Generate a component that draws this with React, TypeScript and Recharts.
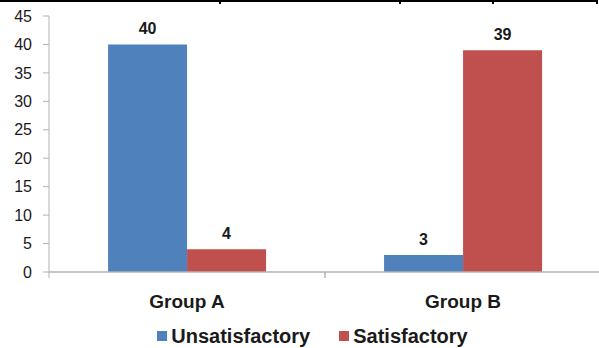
import React from 'react';
import { BarChart, Bar, XAxis, YAxis, Legend, LabelList } from 'recharts';

const categories = ['Group A', 'Group B'];
const unsatisfactory = [40, 3];
const satisfactory = [4, 39];
const seriesNames = ['Unsatisfactory', 'Satisfactory'];
const seriesColors = ['#4F81BD', '#C0504D'];
const yTicks = [0, 5, 10, 15, 20, 25, 30, 35, 40, 45];

const data = categories.map((c, i) => ({
  name: c,
  unsatisfactory: unsatisfactory[i],
  satisfactory: satisfactory[i],
}));

const FONT = '"Liberation Sans", Arial, sans-serif';
const AXIS = '#B3B3B3';

const CatTick = (props: any) => {
  const { x, y, payload } = props;
  const off = payload.offset || 0;
  return (
    <g>
      <line x1={x - off} x2={x - off} y1={y} y2={y + 6} stroke={AXIS} strokeWidth={1} />
      <line x1={x + off} x2={x + off} y1={y} y2={y + 6} stroke={AXIS} strokeWidth={1} />
      <text x={x} y={y + 36} textAnchor="middle" fontFamily={FONT} fontWeight="bold" fontSize={19} fill="#1a1a1a">
        {payload.value}
      </text>
    </g>
  );
};

const LegendContent = () => (
  <div
    style={{
      height: 24,
      display: 'flex',
      justifyContent: 'center',
      alignItems: 'center',
      paddingLeft: 15,
      fontFamily: FONT,
      fontWeight: 'bold',
      fontSize: 20,
      lineHeight: '24px',
      color: '#1a1a1a',
    }}
  >
    {seriesNames.map((n, i) => (
      <div key={n} style={{ display: 'flex', alignItems: 'center', marginLeft: i === 0 ? 0 : 29 }}>
        <span style={{ width: 10, height: 10, background: seriesColors[i], display: 'inline-block', marginRight: 4 }} />
        <span>{n}</span>
      </div>
    ))}
  </div>
);

export default function App() {
  return (
    <div style={{ position: 'absolute', left: 0, top: 0, width: 599, height: 348, overflow: 'hidden', background: '#fff' }}>
      <BarChart
        width={610}
        height={348}
        data={data}
        margin={{ top: 16, right: 9, bottom: 0, left: 0 }}
        barCategoryGap="21.4%"
        barGap={0}
      >
        <XAxis
          dataKey="name"
          stroke={AXIS}
          strokeWidth={1.5}
          tickLine={false}
          tickSize={0}
          tickMargin={0}
          height={52}
          tick={<CatTick />}
          interval={0}
        />
        <YAxis
          width={49}
          domain={[0, 45]}
          ticks={yTicks}
          interval={0}
          stroke={AXIS}
          tickSize={6}
          tickMargin={11}
          tick={{ fill: '#1a1a1a', fontSize: 16, fontFamily: FONT }}
        />
        <Legend
          verticalAlign="bottom"
          content={<LegendContent />}
          wrapperStyle={{ left: 0, width: 610, top: 324, bottom: 'auto', height: 24 }}
        />
        <Bar dataKey="unsatisfactory" name={seriesNames[0]} fill={seriesColors[0]} isAnimationActive={false}>
          <LabelList dataKey="unsatisfactory" position="top" offset={10} fill="#1a1a1a" fontSize={16} fontWeight="bold" fontFamily={FONT} />
        </Bar>
        <Bar dataKey="satisfactory" name={seriesNames[1]} fill={seriesColors[1]} isAnimationActive={false}>
          <LabelList dataKey="satisfactory" position="top" offset={10} fill="#1a1a1a" fontSize={16} fontWeight="bold" fontFamily={FONT} />
        </Bar>
      </BarChart>
      <div style={{ position: 'absolute', left: 0, top: 0, width: 598, height: 2, background: '#000' }} />
      <div style={{ position: 'absolute', left: 219, top: 0, width: 2, height: 4, background: '#000' }} />
      <div style={{ position: 'absolute', left: 399, top: 0, width: 2, height: 4, background: '#000' }} />
      <div style={{ position: 'absolute', left: 492, top: 0, width: 2, height: 4, background: '#000' }} />
      <div style={{ position: 'absolute', left: 596, top: 0, width: 2, height: 4, background: '#000' }} />
    </div>
  );
}
